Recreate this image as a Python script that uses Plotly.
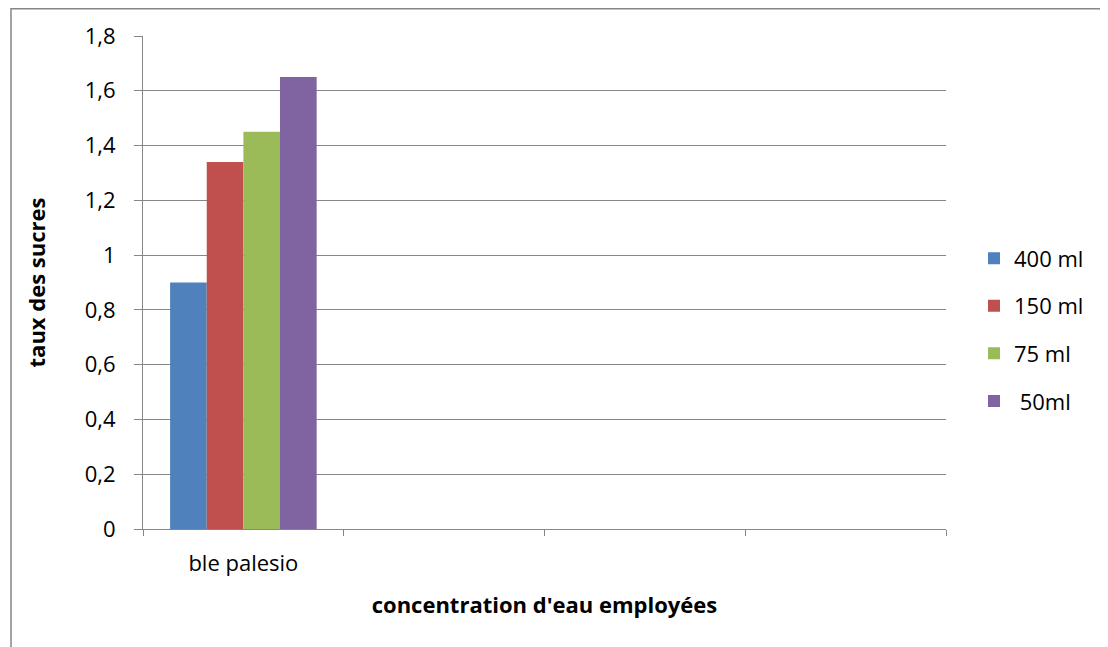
import plotly.graph_objects as go

categories = ["ble palesio"]
empty_slots = [" ", "  ", "   "]
series_names = ["400 ml", "150 ml", "75 ml", " 50ml"]
v_400 = [0.90]
v_150 = [1.34]
v_75 = [1.45]
v_50 = [1.65]
colors = ["#4F81BD", "#C0504D", "#9BBB59", "#8064A2"]

FONT = "Open Sans"
FS = 22
fig = go.Figure()
for i, (name, vals) in enumerate(zip(series_names, [v_400, v_150, v_75, v_50])):
    fig.add_trace(go.Bar(x=categories, y=vals, name=name, legendgroup=str(i),
                         marker=dict(color=colors[i], line=dict(width=0))))

gray = "#868686"
# page has an 8px body margin; figure is sized so it fits the window
W, H = 1100, 639
L, R, T, B = 135, 162, 28, 118
pw, ph = W - L - R, H - T - B
fig.update_layout(
    width=W, height=H,
    margin=dict(l=L, r=R, t=T, b=B),
    paper_bgcolor="white", plot_bgcolor="white",
    separators=", ",
    font=dict(family=FONT, size=FS, color="black"),
    barmode="group", bargap=0.27, bargroupgap=0,
    showlegend=True,
    legend=dict(x=(966 - L) / pw, y=0.404, xanchor="left", yanchor="middle",
                font=dict(family=FONT, size=FS), tracegroupgap=16,
                bgcolor="rgba(0,0,0,0)"),
    xaxis=dict(type="category", categoryorder="array",
               categoryarray=categories + empty_slots,
               range=[-0.5, 3.5], tickson="boundaries",
               ticks="outside", ticklen=6, tickcolor=gray, tickwidth=1,
               showline=True, linecolor=gray, linewidth=1, showgrid=False,
               ticklabelstandoff=15,
               title=dict(text="<b>concentration d'eau employées</b>", standoff=21,
                          font=dict(family=FONT, size=FS))),
    yaxis=dict(range=[0, 1.8], dtick=0.2, tick0=0,
               ticks="outside", ticklen=8, tickcolor=gray, tickwidth=1,
               showline=True, linecolor=gray, linewidth=1,
               showgrid=True, gridcolor=gray, gridwidth=1, zeroline=False,
               ticklabelstandoff=14,
               title=dict(text="<b>taux des sucres</b>", standoff=33,
                          font=dict(family=FONT, size=FS))),
    shapes=[dict(type="rect", xref="paper", yref="paper",
                 x0=(3 - L) / pw, x1=1.4, y0=-0.4, y1=(T + ph - 0.75) / ph,
                 line=dict(color=gray, width=1.5), fillcolor="rgba(0,0,0,0)", layer="below")],
)

fig.write_html("out.html")
